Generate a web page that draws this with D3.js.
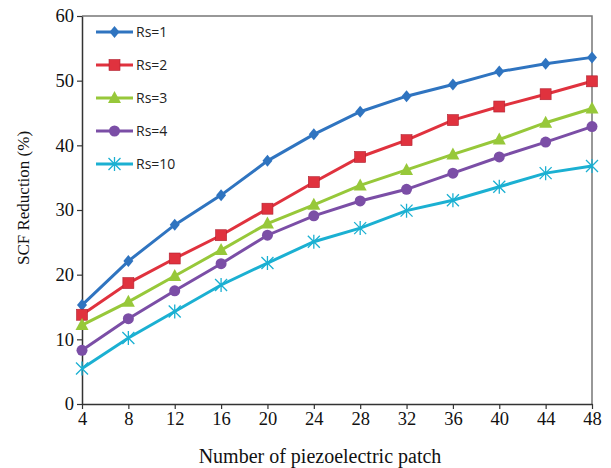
<!DOCTYPE html>
<html>
<head>
<meta charset="utf-8">
<script src="https://cdn.jsdelivr.net/npm/d3@7"></script>
<style>
  body { margin: 0; background: #fff; }
  svg { display: block; }
</style>
</head>
<body>
<svg id="chart" width="611" height="468"></svg>
<script>
const patches = [4, 8, 12, 16, 20, 24, 28, 32, 36, 40, 44, 48];
const rs1 = [15.3, 22.1, 27.7, 32.3, 37.6, 41.7, 45.2, 47.6, 49.4, 51.4, 52.6, 53.6];
const rs2 = [13.8, 18.7, 22.5, 26.1, 30.2, 34.3, 38.2, 40.8, 43.9, 46.0, 47.9, 49.9];
const rs3 = [12.2, 15.8, 19.8, 23.8, 27.9, 30.8, 33.8, 36.2, 38.6, 40.9, 43.5, 45.7];
const rs4 = [8.3, 13.2, 17.5, 21.7, 26.1, 29.1, 31.4, 33.2, 35.7, 38.2, 40.5, 42.9];
const rs10 = [5.5, 10.2, 14.3, 18.4, 21.8, 25.1, 27.2, 29.9, 31.5, 33.6, 35.7, 36.8];
const seriesNames = ['Rs=1', 'Rs=2', 'Rs=3', 'Rs=4', 'Rs=10'];
const yTicks = [0, 10, 20, 30, 40, 50, 60];

const colors = ['#2f74c0', '#e0323e', '#97c83a', '#7b4ea6', '#1bb0d2'];
const shapes = ['diamond', 'square', 'triangle', 'circle', 'asterisk'];

let series = [rs1, rs2, rs3, rs4, rs10].map((vals, i) => ({
    name: seriesNames[i],
    color: colors[i],
    shape: shapes[i],
    points: vals.map((v, j) => ({x: patches[j], y: v}))
}));

let margin = {left: 82, right: 19, top: 16, bottom: 64};
let width = 611 - margin.left - margin.right,
    height = 468 - margin.top - margin.bottom;

let svg = d3.select('#chart');
let g = svg.append('g').attr('transform', `translate(${margin.left}, ${margin.top})`);

let x = d3.scaleLinear().domain([4, 48]).range([0, width]);
let y = d3.scaleLinear().domain([0, 60]).range([height, 0]);

// frame top / right
g.append('path')
    .attr('d', `M0,0H${width}V${height}`)
    .attr('fill', 'none')
    .attr('stroke', '#777')
    .attr('stroke-width', 1.5);

let xAxis = g.append('g')
    .attr('transform', `translate(0, ${height})`)
    .call(d3.axisBottom(x).tickValues(patches).tickSize(5).tickSizeOuter(0).tickPadding(3));
let yAxis = g.append('g')
    .call(d3.axisLeft(y).tickValues(yTicks).tickSize(5).tickSizeOuter(0).tickPadding(3));

[xAxis, yAxis].forEach(a => {
    a.select('.domain').attr('stroke', '#333').attr('stroke-width', 1.5);
    a.selectAll('.tick line').attr('stroke', '#333').attr('stroke-width', 1.2);
    a.selectAll('.tick text')
        .attr('fill', '#111')
        .style('font-family', '"Liberation Serif", "DejaVu Serif", serif')
        .style('font-size', '18.5px');
});

let line = d3.line().x(d => x(d.x)).y(d => y(d.y));

function drawMarker(sel, shape, color) {
    if (shape === 'circle') {
        sel.append('circle').attr('r', 5.5).attr('fill', color);
    } else if (shape === 'square') {
        sel.append('rect').attr('x', -5.5).attr('y', -5.5).attr('width', 11).attr('height', 11)
            .attr('fill', color).attr('stroke', '#b02030').attr('stroke-width', 0.6);
    } else if (shape === 'diamond') {
        sel.append('path').attr('d', 'M0,-6L5,0L0,6L-5,0Z').attr('fill', color);
    } else if (shape === 'triangle') {
        sel.append('path').attr('d', 'M0,-7L6.5,5L-6.5,5Z').attr('fill', color);
    } else {
        sel.append('path').attr('d', 'M-6,-6L6,6M-6,6L6,-6M0,-7V7')
            .attr('stroke', color).attr('stroke-width', 1.3).attr('fill', 'none');
    }
}

series.forEach(s => {
    g.append('path')
        .datum(s.points)
        .attr('fill', 'none')
        .attr('stroke', s.color)
        .attr('stroke-width', 3)
        .attr('d', line);

    g.selectAll(null)
        .data(s.points)
        .join('g')
        .attr('transform', d => `translate(${x(d.x)}, ${y(d.y)})`)
        .each(function () { drawMarker(d3.select(this), s.shape, s.color); });
});

// legend
let legend = svg.append('g').attr('transform', 'translate(96, 32)');
series.forEach((s, i) => {
    let row = legend.append('g').attr('transform', `translate(0, ${i * 33})`);
    row.append('line').attr('x1', 0).attr('x2', 37).attr('y1', 0).attr('y2', 0)
        .attr('stroke', s.color).attr('stroke-width', 3);
    let m = row.append('g').attr('transform', 'translate(18.5, 0)');
    drawMarker(m, s.shape, s.color);
    row.append('text')
        .attr('x', 40).attr('y', 0).attr('dy', '0.35em')
        .attr('fill', '#222')
        .style('font-family', '"Open Sans", "DejaVu Sans", sans-serif')
        .style('font-size', '14px')
        .text(s.name);
});

// axis titles
svg.append('text')
    .attr('x', 320)
    .attr('y', 463)
    .attr('text-anchor', 'middle')
    .attr('fill', '#111')
    .style('font-family', '"Liberation Serif", serif')
    .style('font-size', '20px')
    .text('Number of piezoelectric patch');

svg.append('text')
    .attr('transform', `translate(29, 198) rotate(-90)`)
    .attr('text-anchor', 'middle')
    .attr('fill', '#111')
    .style('font-family', '"Liberation Serif", serif')
    .style('font-size', '17px')
    .text('SCF Reduction (%)');
</script>
</body>
</html>
